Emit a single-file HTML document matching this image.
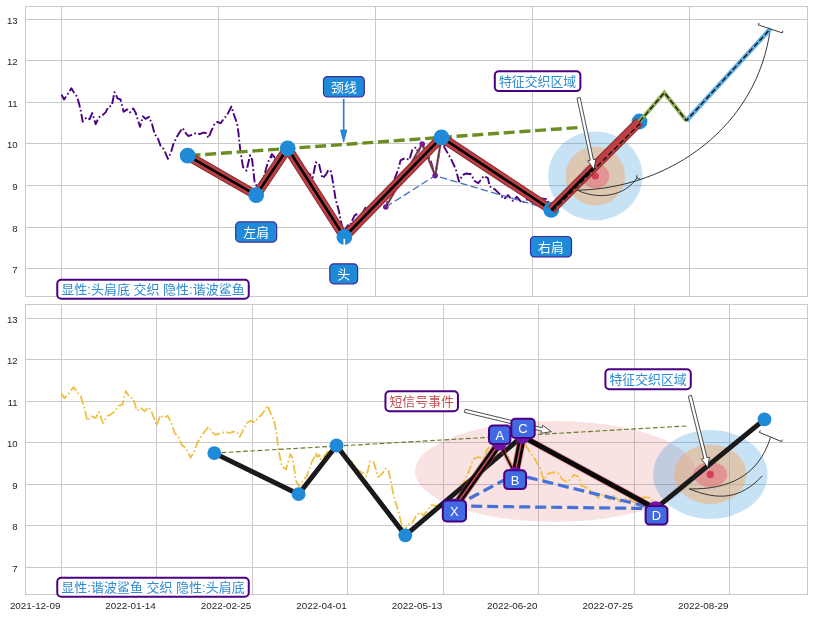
<!DOCTYPE html>
<html lang="zh"><head><meta charset="utf-8"><title>chart</title>
<style>html,body{margin:0;padding:0;background:#fff}svg{display:block}text{font-family:'Liberation Sans','Noto Sans CJK SC',sans-serif}.tk{font-size:9.6px;fill:#262626}.tx{font-size:9.9px}.lb{font-size:13.3px}</style></head><body>
<svg width="813" height="617" viewBox="0 0 813 617">
<rect width="813" height="617" fill="#fff"/>
<g stroke="#c9c9c9" stroke-width="1" fill="none" shape-rendering="crispEdges">
<line x1="25.5" y1="19.5" x2="807.8" y2="19.5"/>
<line x1="25.5" y1="60.5" x2="807.8" y2="60.5"/>
<line x1="25.5" y1="102.5" x2="807.8" y2="102.5"/>
<line x1="25.5" y1="143.5" x2="807.8" y2="143.5"/>
<line x1="25.5" y1="185.5" x2="807.8" y2="185.5"/>
<line x1="25.5" y1="227.5" x2="807.8" y2="227.5"/>
<line x1="25.5" y1="268.5" x2="807.8" y2="268.5"/>
<line x1="61.5" y1="6.2" x2="61.5" y2="296.6"/>
<line x1="218.5" y1="6.2" x2="218.5" y2="296.6"/>
<line x1="375.5" y1="6.2" x2="375.5" y2="296.6"/>
<line x1="532.5" y1="6.2" x2="532.5" y2="296.6"/>
<line x1="689.5" y1="6.2" x2="689.5" y2="296.6"/>
<rect x="25.5" y="6.5" width="782.0" height="290.0"/>
</g>
<text class="tk" x="17.6" y="23.8" text-anchor="end">13</text>
<text class="tk" x="17.6" y="65.3" text-anchor="end">12</text>
<text class="tk" x="17.6" y="106.9" text-anchor="end">11</text>
<text class="tk" x="17.6" y="148.4" text-anchor="end">10</text>
<text class="tk" x="17.6" y="190.0" text-anchor="end">9</text>
<text class="tk" x="17.6" y="231.6" text-anchor="end">8</text>
<text class="tk" x="17.6" y="273.1" text-anchor="end">7</text>
<clipPath id="ct"><rect x="25.5" y="6.2" width="782.3" height="290.4"/></clipPath>
<g clip-path="url(#ct)">
<ellipse cx="595.3" cy="176.0" rx="47.1" ry="44.4" fill="rgba(30,138,216,0.25)"/>
<ellipse cx="595.3" cy="176.0" rx="29.8" ry="29.6" fill="rgba(244,168,104,0.47)"/>
<ellipse cx="595.3" cy="176.0" rx="13.9" ry="12.5" fill="rgba(228,90,110,0.46)"/>
<ellipse cx="595.3" cy="176.0" rx="3.6" ry="3.6" fill="rgba(214,48,75,0.85)"/>
<polyline points="61.5,94.6 64.1,99.5 67.8,93.9 71.4,88.2 74.4,93.3 77.3,97.0 80.5,109.4 82.7,121.7 86.6,117.4 89.6,119.2 92.2,113.1 95.7,124.2 98.8,117.4 102.3,115.3 105.6,112.4 108.4,106.9 111.8,105.7 114.5,92.1 117.5,98.3 120.6,99.5 123.6,111.8 127.2,109.4 130.0,112.4 133.3,108.4 135.8,113.1 140.0,126.8 143.0,116.3 145.5,118.8 149.1,116.9 152.1,124.3 154.7,134.2 157.7,137.9 160.8,146.5 163.8,149.0 167.9,158.8 170.9,152.7 173.4,144.0 177.0,136.6 180.0,131.7 182.6,128.0 185.6,132.9 188.2,136.0 192.2,134.8 196.3,132.9 199.8,134.2 203.4,132.7 205.9,132.9 208.5,137.9 211.0,131.7 214.6,123.8 217.2,122.0 220.7,123.2 223.3,119.5 227.3,114.6 231.4,106.6 233.9,114.6 237.0,123.2 238.5,133.1 239.5,142.9 240.4,151.0 243.0,167.0 246.5,170.7 250.1,155.3 252.1,159.6 254.6,181.8 257.2,187.4 263.8,176.9 267.8,162.7 271.9,154.1 274.4,157.2 271.0,156.9 275.9,160.6 280.8,153.3 288.1,148.2 295.1,159.2 300.9,163.2 305.8,171.2 310.2,174.6 312.8,177.7 315.8,162.3 318.9,163.5 320.9,172.1 322.4,178.3 326.0,174.6 328.5,169.7 331.0,171.5 333.1,183.2 335.6,199.2 338.7,210.3 341.7,225.1 344.4,234.3 345.9,228.0 348.4,224.9 349.9,225.5 354.5,215.6 357.5,213.8 359.6,216.9 363.1,211.9 366.2,206.4 371.8,207.2 378.4,201.2 385.9,207.2 390.7,189.2 398.3,169.3 400.5,160.4 404.9,158.2 409.4,159.7 412.3,150.1 416.0,147.1 418.2,152.3 422.2,143.9 428.6,156.7 430.8,161.2 435.2,175.9 441.8,137.5 444.6,147.8 451.0,159.0 455.9,169.5 459.0,181.5 462.3,175.1 466.3,173.5 471.1,174.3 474.3,180.7 478.3,183.2 484.0,175.9 488.0,178.3 489.6,186.4 495.2,189.6 499.2,193.6 504.0,199.2 508.0,195.2 512.8,200.8 516.9,196.8 522.0,203.0 528.0,199.0 534.0,204.0 540.9,198.4 547.4,199.2 551.0,209.6" fill="none" stroke="#4b0082" stroke-width="1.9" stroke-dasharray="9 2.5 1.7 2.5" stroke-linejoin="round"/>
<line x1="187.7" y1="155.7" x2="577.5" y2="127.6" stroke="#6b8e23" stroke-width="3.4" stroke-dasharray="11 4.75" stroke-dashoffset="-1.8"/>
<polyline points="385.8,207.0 435.2,175.6 551.2,209.8" fill="none" stroke="#4472c4" stroke-width="1.3" stroke-dasharray="7.4 3.2"/>
<polyline points="385.8,207.0 422.2,144.0 435.2,175.6 441.5,137.4" fill="none" stroke="#a06272" stroke-width="2.4" stroke-linejoin="round"/>
<polyline points="385.8,207.0 422.2,144.0 435.2,175.6 441.5,137.4" fill="none" stroke="#3a2030" stroke-width="0.8" stroke-linejoin="round"/>
<path d="M770.3,28.9 C757.4,126 671,188.3 577.3,190.2" fill="none" stroke="#222" stroke-width="0.9"/>
<path d="M637.7,176.9 C625,197.2 597.4,199.8 577.3,190.2" fill="none" stroke="#222" stroke-width="0.9"/>
<polyline points="187.7,155.7 256.2,195.1 287.7,148.3 344.4,237.0 441.5,137.4 551.2,209.8" fill="none" stroke="#8c2e32" stroke-width="9.7" stroke-linejoin="round" stroke-linecap="butt"/>
<polyline points="187.7,155.7 256.2,195.1 287.7,148.3 344.4,237.0 441.5,137.4 551.2,209.8" fill="none" stroke="#be4044" stroke-width="7.5" stroke-linejoin="round"/>
<polyline points="187.7,155.7 256.2,195.1 287.7,148.3 344.4,237.0 441.5,137.4 551.2,209.8" fill="none" stroke="#000" stroke-width="2.6" stroke-linejoin="round"/>
<circle cx="385.8" cy="207.0" r="2.8" fill="#6e1e96"/>
<circle cx="422.2" cy="144.0" r="2.8" fill="#6e1e96"/>
<circle cx="435.2" cy="175.6" r="2.8" fill="#6e1e96"/>
<circle cx="187.7" cy="155.7" r="7.9" fill="#1e8ad8"/>
<circle cx="256.2" cy="195.1" r="7.9" fill="#1e8ad8"/>
<circle cx="287.7" cy="148.3" r="7.9" fill="#1e8ad8"/>
<circle cx="344.4" cy="237.0" r="7.9" fill="#1e8ad8"/>
<circle cx="441.5" cy="137.4" r="7.9" fill="#1e8ad8"/>
<circle cx="551.2" cy="209.8" r="7.9" fill="#1e8ad8"/>
<circle cx="639.5" cy="121.5" r="7.9" fill="#1e8ad8"/>
<polyline points="551.2,209.8 639.5,121.5" fill="none" stroke="#8c2e32" stroke-width="9.7"/>
<polyline points="551.2,209.8 639.5,121.5" fill="none" stroke="#be4044" stroke-width="7.5"/>
<polyline points="551.2,209.8 594.0,167.0" fill="none" stroke="#000" stroke-width="2.6"/>
<polyline points="639.5,121.5 664.3,92.7 686.4,120.6" fill="none" stroke="#94b255" stroke-width="4.2" stroke-linejoin="miter"/>
<polyline points="686.4,120.6 770.3,28.9" fill="none" stroke="#62b0e6" stroke-width="4.6"/>
<polyline points="552.5,211.1 640.8,122.8 639.8,121.5 664.3,92.7 686.4,120.6 770.3,28.9" fill="none" stroke="#111" stroke-width="1.35" stroke-dasharray="5.5 2.4"/>
<polyline points="759.0,22.8 758.3,24.9 782.3,32.9 782.9,30.8" fill="none" stroke="#222" stroke-width="0.9"/>
<polyline points="637.4,175.1 636.2,176.0 638.6,179.2 639.8,178.3" fill="none" stroke="#222" stroke-width="0.8"/>
</g>
<line x1="344.3" y1="238.8" x2="344.3" y2="245.5" stroke="#fff" stroke-width="1.6"/>
<polygon points="577.0,98.1 590.3,160.2 587.8,160.8 593.9,169.5 595.9,159.1 593.4,159.6 580.2,97.5" fill="#fff" stroke="#222" stroke-width="0.8" stroke-linejoin="miter"/>
<line x1="343.7" y1="99" x2="343.7" y2="131" stroke="#2a7bc4" stroke-width="1.6"/>
<polygon points="340.5,130 346.9,130 343.7,142" fill="#1e8ad8" stroke="#2a7bc4" stroke-width="0.8"/>
<rect x="323.50" y="76.60" width="40.80" height="20.40" rx="4.0" fill="#1e8ad8" stroke="#3b2a9a" stroke-width="1.2"/>
<text x="343.9" y="91.6" text-anchor="middle" font-size="12.9px" fill="#fff">颈线</text>
<rect x="235.70" y="221.90" width="41.00" height="20.20" rx="4.0" fill="#1e8ad8" stroke="#3b2a9a" stroke-width="1.2"/>
<text x="256.2" y="236.8" text-anchor="middle" font-size="12.9px" fill="#fff">左肩</text>
<rect x="329.80" y="263.80" width="27.80" height="20.00" rx="4.0" fill="#1e8ad8" stroke="#3b2a9a" stroke-width="1.2"/>
<text x="343.7" y="278.6" text-anchor="middle" font-size="12.9px" fill="#fff">头</text>
<rect x="530.50" y="236.50" width="41.00" height="20.40" rx="4.0" fill="#1e8ad8" stroke="#3b2a9a" stroke-width="1.2"/>
<text x="551.0" y="251.5" text-anchor="middle" font-size="12.9px" fill="#fff">右肩</text>
<rect x="494.80" y="71.30" width="85.60" height="19.80" rx="4.0" fill="#fff" stroke="#4b0082" stroke-width="2.0"/>
<text x="537.6" y="86.0" text-anchor="middle" font-size="12.9px" fill="#2f8bd3">特征交织区域</text>
<g stroke="#c9c9c9" stroke-width="1" fill="none" shape-rendering="crispEdges">
<line x1="25.5" y1="318.5" x2="807.8" y2="318.5"/>
<line x1="25.5" y1="359.5" x2="807.8" y2="359.5"/>
<line x1="25.5" y1="401.5" x2="807.8" y2="401.5"/>
<line x1="25.5" y1="442.5" x2="807.8" y2="442.5"/>
<line x1="25.5" y1="484.5" x2="807.8" y2="484.5"/>
<line x1="25.5" y1="525.5" x2="807.8" y2="525.5"/>
<line x1="25.5" y1="567.5" x2="807.8" y2="567.5"/>
<line x1="61.5" y1="304.0" x2="61.5" y2="594.4"/>
<line x1="156.5" y1="304.0" x2="156.5" y2="594.4"/>
<line x1="252.5" y1="304.0" x2="252.5" y2="594.4"/>
<line x1="347.5" y1="304.0" x2="347.5" y2="594.4"/>
<line x1="443.5" y1="304.0" x2="443.5" y2="594.4"/>
<line x1="538.5" y1="304.0" x2="538.5" y2="594.4"/>
<line x1="634.5" y1="304.0" x2="634.5" y2="594.4"/>
<line x1="729.5" y1="304.0" x2="729.5" y2="594.4"/>
<rect x="25.5" y="304.5" width="782.0" height="290.0"/>
</g>
<text class="tk" x="17.6" y="322.8" text-anchor="end">13</text>
<text class="tk" x="17.6" y="364.3" text-anchor="end">12</text>
<text class="tk" x="17.6" y="405.8" text-anchor="end">11</text>
<text class="tk" x="17.6" y="447.3" text-anchor="end">10</text>
<text class="tk" x="17.6" y="488.8" text-anchor="end">9</text>
<text class="tk" x="17.6" y="530.3" text-anchor="end">8</text>
<text class="tk" x="17.6" y="571.8" text-anchor="end">7</text>
<text class="tk tx" x="60.4" y="609.2" text-anchor="end">2021-12-09</text>
<text class="tk tx" x="155.8" y="609.2" text-anchor="end">2022-01-14</text>
<text class="tk tx" x="251.3" y="609.2" text-anchor="end">2022-02-25</text>
<text class="tk tx" x="346.7" y="609.2" text-anchor="end">2022-04-01</text>
<text class="tk tx" x="442.2" y="609.2" text-anchor="end">2022-05-13</text>
<text class="tk tx" x="537.6" y="609.2" text-anchor="end">2022-06-20</text>
<text class="tk tx" x="633.0" y="609.2" text-anchor="end">2022-07-25</text>
<text class="tk tx" x="728.5" y="609.2" text-anchor="end">2022-08-29</text>
<clipPath id="cb"><rect x="25.5" y="304.0" width="782.3" height="290.4"/></clipPath>
<g clip-path="url(#cb)">
<ellipse cx="555.0" cy="471.4" rx="140.0" ry="50.4" fill="rgba(214,84,84,0.17)"/>
<ellipse cx="710.3" cy="474.4" rx="57.2" ry="44.4" fill="rgba(30,138,216,0.25)"/>
<ellipse cx="710.3" cy="474.4" rx="36.2" ry="29.6" fill="rgba(244,168,104,0.47)"/>
<ellipse cx="710.3" cy="474.4" rx="16.9" ry="12.5" fill="rgba(228,90,110,0.46)"/>
<ellipse cx="710.3" cy="474.4" rx="3.6" ry="3.6" fill="rgba(214,48,75,0.85)"/>
<polyline points="61.5,393.5 64.6,398.4 69.2,392.9 73.5,387.1 77.2,392.2 80.6,395.9 84.6,408.3 87.3,420.6 91.9,416.3 95.6,418.1 98.7,411.9 103.0,423.0 106.7,416.3 111.0,414.2 115.0,411.3 118.4,405.8 122.5,404.6 125.8,391.0 129.5,397.2 133.2,398.4 136.9,410.7 141.2,408.3 144.7,411.3 148.6,407.3 151.7,411.9 156.7,425.6 160.4,415.2 163.5,417.6 167.8,415.8 171.5,423.2 174.6,433.0 178.3,436.7 181.9,445.3 185.6,447.8 190.6,457.7 194.3,451.5 197.3,442.9 201.7,435.5 205.3,430.6 208.4,426.9 212.1,431.8 215.2,434.9 220.1,433.6 225.0,431.8 229.4,433.0 233.7,431.6 236.7,431.8 239.8,436.7 242.9,430.6 247.3,422.7 250.4,420.9 254.7,422.1 257.8,418.4 262.7,413.5 267.6,405.5 270.7,413.5 274.4,422.1 276.3,431.9 277.5,441.8 278.6,449.9 281.7,465.9 286.0,469.6 290.3,454.2 292.8,458.5 295.9,480.6 298.9,486.2 306.9,475.7 311.9,461.6 316.8,452.9 319.9,456.0 315.7,455.7 321.7,459.4 327.6,452.1 336.5,447.0 345.0,458.0 352.0,462.0 358.0,470.0 363.3,473.4 366.4,476.5 370.1,461.1 373.8,462.3 376.3,470.9 378.1,477.1 382.4,473.4 385.5,468.5 388.6,470.3 391.0,482.0 394.1,498.0 397.8,509.1 401.5,523.9 404.8,533.0 406.6,526.7 409.6,523.6 411.5,524.3 417.0,514.4 420.7,512.6 423.2,515.6 427.5,510.7 431.2,505.2 438.0,506.0 446.0,500.0 455.2,506.0 461.0,488.0 470.2,468.1 472.9,459.2 478.2,457.0 483.7,458.5 487.2,448.9 491.7,445.9 494.3,451.1 499.2,442.8 507.0,455.5 509.6,460.0 515.0,474.7 523.0,436.4 526.4,446.6 534.1,457.8 540.1,468.3 543.8,480.3 547.8,473.9 552.7,472.3 558.5,473.1 562.4,479.5 567.3,482.0 574.2,474.7 579.0,477.1 581.0,485.2 587.8,488.4 592.6,492.4 598.4,498.0 603.3,494.0 609.1,499.6 614.1,495.6 620.3,501.8 627.6,497.8 634.9,502.8 643.2,497.2 651.1,498.0 655.5,508.4" fill="none" stroke="#efc044" stroke-width="1.8" stroke-dasharray="9 2.5 1.7 2.5" stroke-linejoin="round"/>
<line x1="214.3" y1="453.1" x2="687.5" y2="425.9" stroke="#6a7a2a" stroke-width="1.15" stroke-dasharray="4.8 2.4"/>
<polyline points="455.2,506.0 515.0,474.2 655.5,508.6" fill="none" stroke="#4472d8" stroke-width="3.2" stroke-dasharray="11 5"/>
<polyline points="455.2,506.0 655.5,508.6" fill="none" stroke="#4472d8" stroke-width="3.2" stroke-dasharray="11 5"/>
<path d="M770.5,437.4 C758.4,476.6 727.7,489.7 689.2,488.9" fill="none" stroke="#222" stroke-width="0.9"/>
<path d="M762.3,475.9 C739.9,499.7 718.2,500.5 689.2,488.9" fill="none" stroke="#222" stroke-width="0.9"/>
<polyline points="214.3,453.1 298.6,494.2 336.5,445.5 405.3,535.3 522.4,436.4 655.5,508.6 764.5,419.3" fill="none" stroke="#1a1a1a" stroke-width="4.9" stroke-linejoin="round"/>
<polyline points="455.2,506.0 499.4,443.2" fill="none" stroke="rgba(215,70,80,0.5)" stroke-width="8.6"/>
<polyline points="499.4,443.2 515.0,474.2" fill="none" stroke="rgba(215,70,80,0.5)" stroke-width="4.2"/>
<polyline points="515.0,474.2 522.4,436.4" fill="none" stroke="rgba(215,70,80,0.5)" stroke-width="8.8"/>
<polyline points="522.4,436.4 655.5,508.6" fill="none" stroke="rgba(215,70,80,0.5)" stroke-width="6.6"/>
<polyline points="455.2,506.0 499.4,443.2" fill="none" stroke="#0a0a0a" stroke-width="7"/>
<polyline points="499.4,443.2 515.0,474.2" fill="none" stroke="#0a0a0a" stroke-width="1.7"/>
<polyline points="515.0,474.2 522.4,436.4" fill="none" stroke="#0a0a0a" stroke-width="7.2"/>
<polyline points="522.4,436.4 655.5,508.6" fill="none" stroke="#0a0a0a" stroke-width="4.9"/>
<polyline points="455.2,506.0 499.4,443.2" fill="none" stroke="#d44a5a" stroke-width="1.5"/>
<polyline points="515.0,474.2 522.4,436.4" fill="none" stroke="#d44a5a" stroke-width="1.5"/>
<circle cx="455.2" cy="506.0" r="7.4" fill="#7014a4"/>
<circle cx="499.4" cy="443.2" r="7.4" fill="#7014a4"/>
<circle cx="515.0" cy="474.2" r="7.4" fill="#7014a4"/>
<circle cx="522.4" cy="436.4" r="7.4" fill="#7014a4"/>
<circle cx="655.5" cy="508.6" r="7.4" fill="#7014a4"/>
<circle cx="214.3" cy="453.1" r="6.9" fill="#1e8ad8"/>
<circle cx="298.6" cy="494.2" r="6.9" fill="#1e8ad8"/>
<circle cx="336.5" cy="445.5" r="6.9" fill="#1e8ad8"/>
<circle cx="405.3" cy="535.3" r="6.9" fill="#1e8ad8"/>
<circle cx="764.5" cy="419.3" r="6.9" fill="#1e8ad8"/>
<polyline points="760.3,430.3 759.4,432.4 781.6,441.6 782.4,439.6" fill="none" stroke="#222" stroke-width="0.9"/>
</g>
<polygon points="464.4,412.4 541.4,430.9 540.8,433.3 551.3,431.6 542.7,425.3 542.1,427.8 465.2,409.2" fill="#fff" stroke="#222" stroke-width="0.8" stroke-linejoin="miter"/>
<polygon points="688.3,396.2 703.9,458.5 701.5,459.1 707.8,467.6 709.4,457.1 707.0,457.7 691.5,395.4" fill="#fff" stroke="#222" stroke-width="0.8" stroke-linejoin="miter"/>
<rect x="442.80" y="500.40" width="23.20" height="21.00" rx="4.0" fill="#4169e1" stroke="#4b0082" stroke-width="2.0"/>
<text x="454.4" y="515.7" text-anchor="middle" font-size="12.9px" fill="#fff">X</text>
<rect x="489.00" y="425.50" width="21.40" height="18.60" rx="4.0" fill="#4169e1" stroke="#4b0082" stroke-width="2.0"/>
<text x="499.7" y="439.6" text-anchor="middle" font-size="12.9px" fill="#fff">A</text>
<rect x="504.20" y="470.30" width="21.80" height="18.80" rx="4.0" fill="#4169e1" stroke="#4b0082" stroke-width="2.0"/>
<text x="515.1" y="484.5" text-anchor="middle" font-size="12.9px" fill="#fff">B</text>
<rect x="511.30" y="418.80" width="23.40" height="19.20" rx="4.0" fill="#4169e1" stroke="#4b0082" stroke-width="2.0"/>
<text x="523.0" y="433.2" text-anchor="middle" font-size="12.9px" fill="#fff">C</text>
<rect x="645.60" y="506.00" width="21.80" height="18.60" rx="4.0" fill="#4169e1" stroke="#4b0082" stroke-width="2.0"/>
<text x="656.5" y="520.1" text-anchor="middle" font-size="12.9px" fill="#fff">D</text>
<rect x="385.45" y="391.20" width="72.50" height="20.00" rx="4.0" fill="#fff" stroke="#4b0082" stroke-width="2.0"/>
<text x="421.7" y="406.0" text-anchor="middle" font-size="12.9px" fill="#c44e52">短信号事件</text>
<rect x="605.40" y="369.20" width="85.40" height="20.00" rx="4.0" fill="#fff" stroke="#4b0082" stroke-width="2.0"/>
<text x="648.1" y="384.0" text-anchor="middle" font-size="12.9px" fill="#2f8bd3">特征交织区域</text>
<rect x="57.25" y="279.80" width="191.50" height="19.00" rx="4.0" fill="#fff" stroke="#4b0082" stroke-width="2.0"/>
<text x="153.0" y="294.1" text-anchor="middle" font-size="13.0px" fill="#2f8bd3">显性:头肩底 交织 隐性:谐波鲨鱼</text>
<rect x="57.25" y="577.80" width="191.50" height="19.00" rx="4.0" fill="#fff" stroke="#4b0082" stroke-width="2.0"/>
<text x="153.0" y="592.1" text-anchor="middle" font-size="13.0px" fill="#2f8bd3">显性:谐波鲨鱼 交织 隐性:头肩底</text>
</svg></body></html>
